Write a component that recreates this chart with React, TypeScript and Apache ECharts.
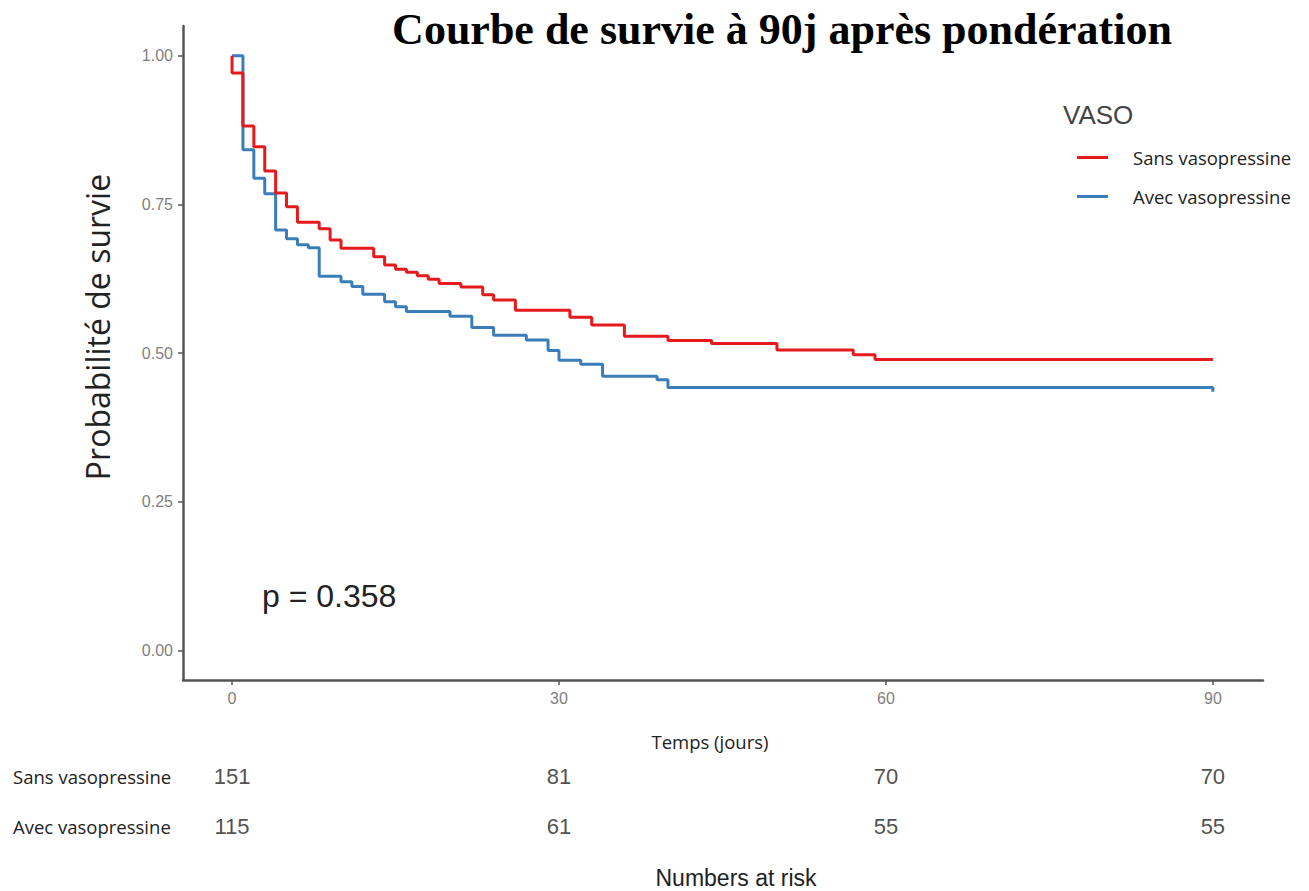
import React, { useEffect, useRef } from "react";
import * as echarts from "echarts";

// Kaplan-Meier steps (time in days, survival probability)
const sansTimes = [0, 0, 1, 2, 3, 4, 5, 6, 8, 9, 10, 13, 14, 15, 16, 17, 18, 19, 21, 23, 24, 26, 31, 33, 36, 40, 44, 50, 57, 59, 90];
const sansSurv = [1, 0.971, 0.882, 0.847, 0.806, 0.769, 0.746, 0.72, 0.709, 0.69, 0.676, 0.662, 0.648, 0.641, 0.636, 0.63, 0.624, 0.617, 0.611, 0.598, 0.589, 0.572, 0.56, 0.547, 0.528, 0.521, 0.516, 0.505, 0.497, 0.489, 0.489];
const avecTimes = [0, 1, 2, 3, 4, 5, 6, 7, 8, 10, 11, 12, 14, 15, 16, 20, 22, 24, 27, 29, 30, 32, 34, 39, 40, 90, 90];
const avecSurv = [1, 0.842, 0.794, 0.768, 0.707, 0.692, 0.682, 0.677, 0.629, 0.62, 0.612, 0.599, 0.586, 0.578, 0.57, 0.562, 0.543, 0.53, 0.522, 0.504, 0.488, 0.481, 0.461, 0.455, 0.442, 0.442, 0.435];

const groups = ["Sans vasopressine", "Avec vasopressine"];
const colors = ["#E41A1C", "#3A7DB8"];

const xTicks = [0, 30, 60, 90];
const yTicks = [0, 0.25, 0.5, 0.75, 1];

const riskTimes = [0, 30, 60, 90];
const riskSans = [151, 81, 70, 70];
const riskAvec = [115, 61, 55, 55];

const pValueText = "p = 0.358";
const titleText = "Courbe de survie à 90j après pondération";

export default function App() {
  const ref = useRef<HTMLDivElement>(null);
  useEffect(() => {
    if (!ref.current) return;
    const chart = echarts.init(ref.current, undefined, { renderer: "svg" });
    const xMin = -4.5;
    const xMax = 94.6;
    const sansData = sansTimes.map((t, i) => [t, sansSurv[i]]);
    const avecData = avecTimes.map((t, i) => [t, avecSurv[i]]);
    const riskData = [
      ...riskTimes.map((t, i) => [t, groups[0], riskSans[i]]),
      ...riskTimes.map((t, i) => [t, groups[1], riskAvec[i]]),
    ];
    chart.setOption({
      animation: false,
      backgroundColor: "#ffffff",
      title: [
        {
          text: titleText,
          left: 782,
          top: 7,
          padding: 0,
          textAlign: "center",
          textStyle: { fontFamily: "Liberation Serif", fontWeight: "bold", fontSize: 44, color: "#000" },
        },
        {
          text: "VASO",
          left: 1063,
          top: 102,
          padding: 0,
          textStyle: { fontFamily: "Liberation Sans", fontWeight: "normal", fontSize: 26, color: "#444" },
        },
        {
          text: pValueText,
          left: 262,
          top: 580,
          padding: 0,
          textStyle: { fontFamily: "Liberation Sans", fontWeight: "normal", fontSize: 32, color: "#222" },
        },
        {
          text: "Numbers at risk",
          left: 736,
          top: 866,
          padding: 0,
          textAlign: "center",
          textStyle: { fontFamily: "Liberation Sans", fontWeight: "normal", fontSize: 23, color: "#222" },
        },
      ],
      legend: {
        orient: "vertical",
        left: 1072,
        top: 143,
        itemWidth: 31,
        itemHeight: 3,
        itemGap: 20,
        icon: "rect",
        data: groups,
        textStyle: { fontFamily: "Open Sans", fontSize: 18.5, color: "#222", padding: [0, 0, 0, 20] },
      },
      grid: [
        { left: 183, right: 46, top: 26, bottom: 211, containLabel: false },
        { left: 183, right: 46, top: 751, height: 100, containLabel: false },
      ],
      xAxis: [
        {
          type: "value",
          gridIndex: 0,
          min: xMin,
          max: xMax,
          name: "Temps (jours)",
          nameLocation: "middle",
          nameGap: 52,
          nameTextStyle: { fontFamily: "Open Sans", fontSize: 18.5, color: "#222", padding: [0, 26, 0, 0] },
          splitLine: { show: false },
          axisLine: { show: true, onZero: false, lineStyle: { color: "#555", width: 2.5 } },
          axisTick: { show: true, length: 5, customValues: xTicks, lineStyle: { color: "#555", width: 1.5 } },
          axisLabel: {
            customValues: xTicks,
            color: "#7f7f7f",
            fontFamily: "Liberation Sans",
            fontSize: 16,
            margin: 10,
          },
        },
        {
          type: "value",
          gridIndex: 1,
          min: xMin,
          max: xMax,
          show: false,
        },
      ],
      yAxis: [
        {
          type: "value",
          gridIndex: 0,
          min: -0.05,
          max: 1.05,
          name: "Probabilité de survie",
          nameLocation: "middle",
          nameGap: 70,
          nameTextStyle: { fontFamily: "Open Sans", fontSize: 32, color: "#222", padding: [0, 0, 0, 52] },
          splitLine: { show: false },
          axisLine: { show: true, onZero: false, lineStyle: { color: "#555", width: 2.5 } },
          axisTick: { show: true, length: 5, customValues: yTicks, lineStyle: { color: "#555", width: 1.5 } },
          axisLabel: {
            customValues: yTicks,
            formatter: (v: number) => v.toFixed(2),
            color: "#7f7f7f",
            fontFamily: "Liberation Sans",
            fontSize: 16,
            margin: 10,
          },
        },
        {
          type: "category",
          gridIndex: 1,
          data: groups,
          inverse: true,
          axisLine: { show: false },
          axisTick: { show: false },
          splitLine: { show: false },
          axisLabel: {
            align: "left",
            margin: 170,
            color: "#222",
            fontFamily: "Open Sans",
            fontSize: 18.5,
          },
        },
      ],
      series: [
        {
          name: groups[0],
          type: "line",
          step: "end",
          xAxisIndex: 0,
          yAxisIndex: 0,
          data: sansData,
          showSymbol: false,
          symbol: "none",
          color: colors[0],
          lineStyle: { width: 3, color: colors[0] },
          z: 3,
        },
        {
          name: groups[1],
          type: "line",
          step: "end",
          xAxisIndex: 0,
          yAxisIndex: 0,
          data: avecData,
          showSymbol: false,
          symbol: "none",
          color: colors[1],
          lineStyle: { width: 3, color: colors[1] },
          z: 2,
        },
        {
          name: "risk",
          type: "scatter",
          xAxisIndex: 1,
          yAxisIndex: 1,
          data: riskData,
          symbolSize: 0,
          silent: true,
          label: {
            show: true,
            position: "inside",
            formatter: (p: any) => String(p.value[2]),
            color: "#222",
            fontFamily: "Liberation Sans",
            fontSize: 22,
          },
        },
      ],
    });
    return () => chart.dispose();
  }, []);
  return <div ref={ref} style={{ position: "absolute", left: 0, top: 0, width: 1309, height: 891 }} />;
}
